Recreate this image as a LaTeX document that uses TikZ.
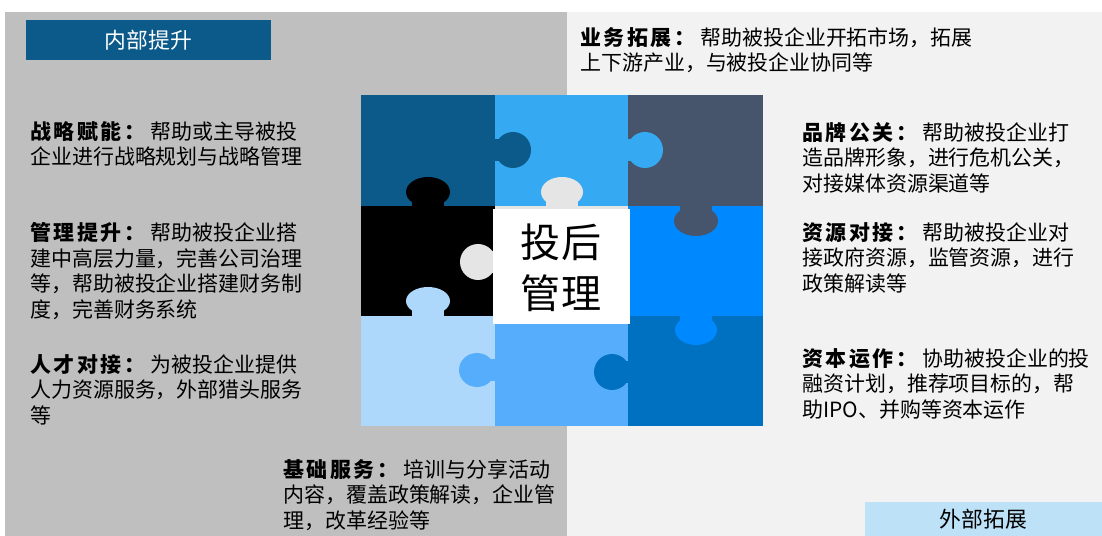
\documentclass[tikz,border=0pt]{standalone}
\usepackage{fontspec}
\setmainfont{Noto Sans CJK SC}
\newcommand{\thglhead}[1]{{\bfseries\addfontfeatures{LetterSpace=12}#1}\hspace{0.13cm}}
\begin{document}
\begin{tikzpicture}[x=0.025cm,y=-0.025cm,
    desc/.style={anchor=north west,inner sep=0pt,align=left,font=\fontsize{14.9}{18.3}\selectfont},
    cell/.style={shape=rectangle,inner sep=0pt,minimum width=3.35cm,minimum height=2.76cm},
    headbox/.style={shape=rectangle,inner sep=0pt,font=\fontsize{15.5}{18}\selectfont}]
    \definecolor{thgl_bgleft}{RGB}{191,191,191}
    \definecolor{thgl_bgright}{RGB}{242,242,242}
    \definecolor{thgl_dark}{RGB}{11,90,138}
    \definecolor{thgl_sky}{RGB}{53,169,241}
    \definecolor{thgl_slate}{RGB}{70,85,108}
    \definecolor{thgl_grey}{RGB}{229,229,229}
    \definecolor{thgl_bright}{RGB}{0,136,255}
    \definecolor{thgl_pale}{RGB}{173,216,252}
    \definecolor{thgl_mid}{RGB}{85,173,251}
    \definecolor{thgl_deep}{RGB}{0,112,192}
    \definecolor{thgl_head}{RGB}{189,225,247}
    \useasboundingbox (0,0) rectangle (1102,536);
    % backgrounds
    \fill[thgl_bgleft] (5,12) rectangle (567,536);
    \fill[thgl_bgright] (567,12) rectangle (1102,536);
    % puzzle cells
    \node[cell,fill=thgl_dark]   (c11) at (428,150.5) {};
    \node[cell,fill=thgl_sky]    (c12) at (562,150.5) {};
    \node[cell,fill=thgl_slate]  (c13) at (695.5,150.5) {};
    \node[cell,fill=black]       (c21) at (428,261) {};
    \node[cell,fill=thgl_grey]   (c22) at (562,261) {};
    \node[cell,fill=thgl_bright] (c23) at (695.5,261) {};
    \node[cell,fill=thgl_pale]   (c31) at (428,371) {};
    \node[cell,fill=thgl_mid]    (c32) at (562,371) {};
    \node[cell,fill=thgl_deep]   (c33) at (695.5,371) {};
    % knobs: neck, then round head
    \fill[thgl_dark] (490,139) rectangle (505,161);
    \fill[thgl_dark] (513,150) ellipse [x radius=18,y radius=18];
    \fill[thgl_sky] (624,139) rectangle (638,161);
    \fill[thgl_sky] (645,150) ellipse [x radius=18,y radius=18];
    \fill[black] (412,192) rectangle (444,208);
    \fill[black] (428,192) ellipse [x radius=22,y radius=15];
    \fill[thgl_grey] (546,192) rectangle (578,208);
    \fill[thgl_grey] (562,192) ellipse [x radius=21,y radius=15];
    \fill[thgl_slate] (680,204) rectangle (712,220);
    \fill[thgl_slate] (696,221) ellipse [x radius=22,y radius=15];
    \fill[thgl_grey] (478,251) rectangle (497,273);
    \fill[thgl_grey] (478,262) ellipse [x radius=18,y radius=18];
    \fill[thgl_pale] (412,301) rectangle (444,318);
    \fill[thgl_pale] (428,301) ellipse [x radius=22,y radius=14];
    \fill[thgl_bright] (680,314) rectangle (712,330);
    \fill[thgl_bright] (696,330) ellipse [x radius=21,y radius=15];
    \fill[thgl_mid] (477,359) rectangle (497,381);
    \fill[thgl_mid] (477,370) ellipse [x radius=18,y radius=17];
    \fill[thgl_deep] (612,361) rectangle (631,383);
    \fill[thgl_deep] (612,372) ellipse [x radius=18,y radius=18];
    % centre
    \node[shape=rectangle,fill=white,inner sep=0pt,minimum width=3.43cm,minimum height=2.875cm] (core) at (561.5,266.5) {};
    \node[align=center,font=\fontsize{28.5}{36.3}\selectfont] (coretxt) at (561,268) {投后\\管理};
    % headers
    \node[headbox,fill=thgl_dark,text=white,minimum width=6.125cm,minimum height=1cm] (inner) at (148.5,40) {内部提升};
    \node[headbox,fill=thgl_head,minimum width=5.925cm,minimum height=0.85cm] (outer) at (983.5,519) {外部拓展};
    % left texts
    \node[desc] (strat) at (30,121) {\thglhead{战略赋能：}帮助或主导被投\\企业进行战略规划与战略管理};
    \node[desc] (mgmt) at (30,222) {\thglhead{管理提升：}帮助被投企业搭\\建中高层力量，完善公司治理\\等，帮助被投企业搭建财务制\\度，完善财务系统};
    \node[desc] (talent) at (30,354) {\thglhead{人才对接：}为被投企业提供\\人力资源服务，外部猎头服务\\等};
    \node[desc] (basic) at (283,459) {\thglhead{基础服务：}培训与分享活动\\内容，覆盖政策解读，企业管\\理，改革经验等};
    % right texts
    \node[desc] (biz) at (580,27) {\thglhead{业务拓展：}帮助被投企业开拓市场，拓展\\上下游产业，与被投企业协同等};
    \node[desc] (brand) at (802,122) {\thglhead{品牌公关：}帮助被投企业打\\造品牌形象，进行危机公关，\\对接媒体资源渠道等};
    \node[desc] (res) at (802,222) {\thglhead{资源对接：}帮助被投企业对\\接政府资源，监管资源，进行\\政策解读等};
    \node[desc] (cap) at (802,348) {\thglhead{资本运作：}协助被投企业的投\\融资计划，推荐项目标的，帮\\助IPO、并购等资本运作};
\end{tikzpicture}
\end{document}
